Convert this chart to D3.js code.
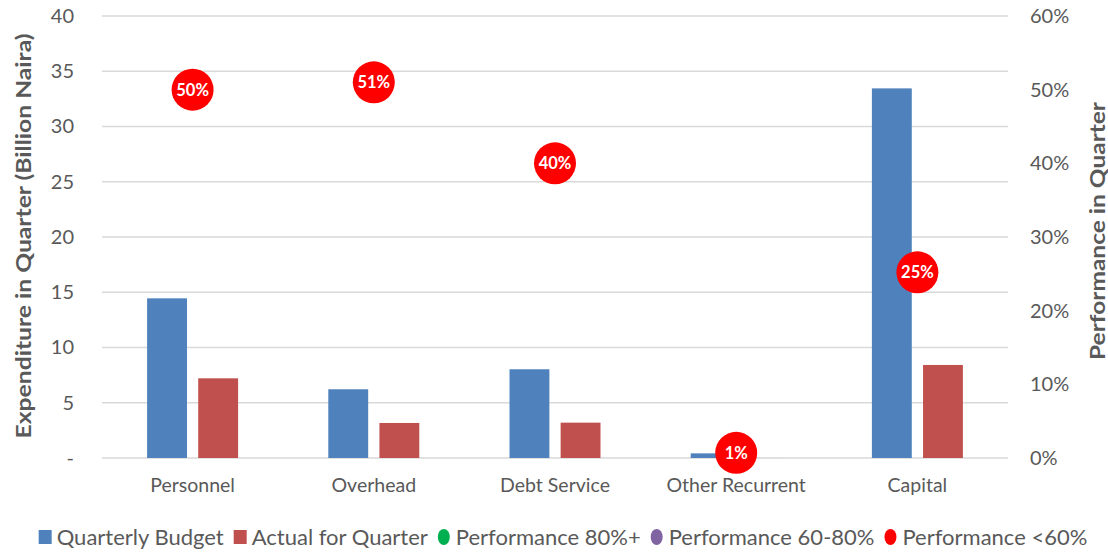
<!DOCTYPE html>
<html><head><meta charset="utf-8">
<script src="https://cdn.jsdelivr.net/npm/d3@7"></script>
<style>body{margin:0;background:#fff}svg{display:block}text{font-family:Lato,"Open Sans",sans-serif}</style>
</head><body><svg id="c" width="1108" height="552"></svg>
<script>
const categories = ["Personnel","Overhead","Debt Service","Other Recurrent","Capital"];
const budget = [14.45, 6.22, 8.03, 0.42, 33.45];
const actual = [7.21, 3.17, 3.2, 0.003, 8.42];
const performance = [0.50, 0.51, 0.40, 0.007, 0.252];
const perfLabels = ["50%","51%","40%","1%","25%"];
const leftTicks = [0,5,10,15,20,25,30,35,40];
const rightTicks = [0,0.1,0.2,0.3,0.4,0.5,0.6];
const seriesNames = ["Quarterly Budget","Actual for Quarter"];
const legendItems = [
  {name:"Quarterly Budget", color:"#4F81BD", shape:"rect"},
  {name:"Actual for Quarter", color:"#C0504D", shape:"rect"},
  {name:"Performance 80%+", color:"#00B050", shape:"circle"},
  {name:"Performance 60-80%", color:"#8064A2", shape:"circle"},
  {name:"Performance <60%", color:"#FF0000", shape:"circle"}
];

const svg = d3.select("#c");
const L = 102, R = 1008, T = 16, B = 458;
const x0 = d3.scaleBand().domain(categories).range([L, R]);
const bw = x0.bandwidth();
const x1 = d3.scaleBand().domain(seriesNames).range([bw/2-45.5, bw/2+45.5]).paddingInner(0.22);
const y = d3.scaleLinear().domain([0,40]).range([B, T]);
const y2 = d3.scaleLinear().domain([0,0.6]).range([B, T]);

// gridlines
svg.append("g").selectAll("line").data(leftTicks).join("line")
  .attr("x1", L).attr("x2", R).attr("y1", d=>y(d)).attr("y2", d=>y(d))
  .attr("stroke", "#D9D9D9").attr("stroke-width", 1.3);

// left axis
const la = svg.append("g").attr("transform", `translate(${L},0)`)
  .call(d3.axisLeft(y).tickValues(leftTicks).tickSize(0).tickPadding(28).tickFormat(d => d===0 ? "-" : d));
la.select(".domain").remove();
la.selectAll("text").attr("fill","#595959").style("font-size","20px").style("font-family","Lato");

// right axis
const ra = svg.append("g").attr("transform", `translate(${R},0)`)
  .call(d3.axisRight(y2).tickValues(rightTicks).tickSize(0).tickPadding(22).tickFormat(d3.format(".0%")));
ra.select(".domain").remove();
ra.selectAll("text").attr("fill","#595959").style("font-size","20px").style("font-family","Lato");

// bottom axis
const ba = svg.append("g").attr("transform", `translate(0,${B})`)
  .call(d3.axisBottom(x0).tickSize(0).tickPadding(20));
ba.select(".domain").remove();
ba.selectAll("text").attr("fill","#595959").style("font-size","19.5px").style("font-family","Lato");

// bars
const rows = categories.map((c,i)=>({c, vals:[{s:seriesNames[0],v:budget[i],col:"#4F81BD"},{s:seriesNames[1],v:actual[i],col:"#C0504D"}]}));
svg.append("g").selectAll("g").data(rows).join("g")
  .attr("transform", d=>`translate(${x0(d.c)},0)`)
  .selectAll("rect").data(d=>d.vals).join("rect")
  .attr("x", d=>x1(d.s)).attr("width", x1.bandwidth())
  .attr("y", d=>y(d.v)).attr("height", d=>B-y(d.v))
  .attr("fill", d=>d.col);

// performance dots
const dots = svg.append("g").selectAll("g").data(categories).join("g")
  .attr("transform", (d,i)=>`translate(${x0(d)+bw/2},${y2(performance[i])})`);
dots.append("circle").attr("r", 21).attr("fill", "#FF0000");
dots.append("text").text((d,i)=>perfLabels[i]).attr("text-anchor","middle").attr("dy","0.36em")
  .attr("fill","#fff").style("font-weight","bold").style("font-size","16.5px");

// axis titles
svg.append("text").attr("transform","translate(31,236) rotate(-90)").attr("text-anchor","middle")
  .attr("fill","#595959").style("font-weight","bold").style("font-size","21px")
  .attr("textLength", 405).attr("lengthAdjust","spacingAndGlyphs")
  .text("Expenditure in Quarter (Billion Naira)");
svg.append("text").attr("transform","translate(1105,231) rotate(-90)").attr("text-anchor","middle")
  .attr("fill","#595959").style("font-weight","bold").style("font-size","21px")
  .attr("textLength", 258).attr("lengthAdjust","spacingAndGlyphs")
  .text("Performance in Quarter");

// legend
const lg = svg.append("g");
let xpos = 0;
legendItems.forEach(it => {
  const g = lg.append("g").attr("transform", `translate(${xpos},0)`);
  if (it.shape === "rect") g.append("rect").attr("x",0).attr("y",-7).attr("width",13).attr("height",14).attr("fill",it.color);
  else g.append("ellipse").attr("cx",6).attr("cy",0).attr("rx",6).attr("ry",8).attr("fill",it.color);
  const t = g.append("text").attr("x",18).attr("dy","0.35em").attr("fill","#595959").style("font-size","22px").text(it.name);
  xpos += 18 + t.node().getComputedTextLength() + 10;
});
const total = xpos - 10;
lg.attr("transform", `translate(${(1108-total)/2+ (563-554)},537)`);
</script></body></html>
